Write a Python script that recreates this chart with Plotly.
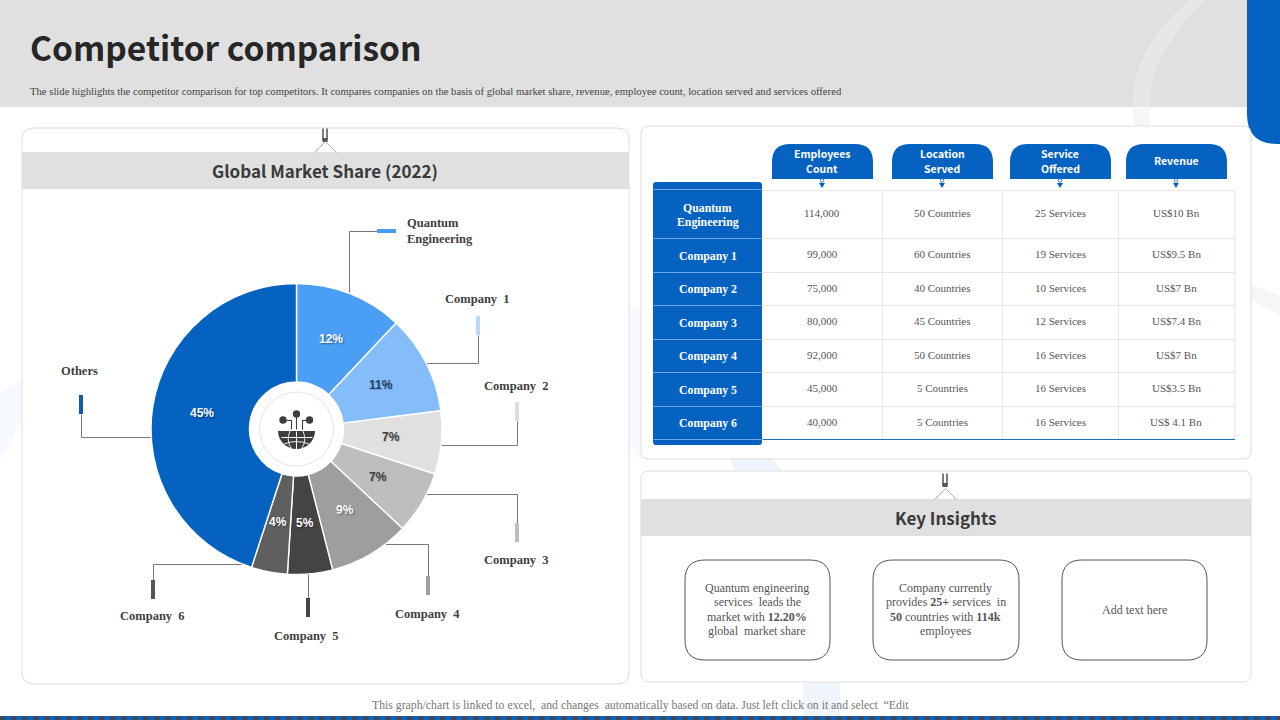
import math
import plotly.graph_objects as go

# ---------- data ----------
slice_labels = ["Quantum Engineering", "Company 1", "Company 2", "Company 3",
                "Company 4", "Company 5", "Company 6", "Others"]
slice_values = [12, 11, 7, 7, 9, 5, 4, 45]
slice_colors = ["#4A9FF5", "#85BDFA", "#E0E0E0", "#BDBFBD",
                "#9E9E9E", "#444444", "#5F5F5F", "#0562C1"]
slice_text_colors = ["#FFFFFF", "#1F3F66", "#404040", "#404040",
                     "#FFFFFF", "#FFFFFF", "#FFFFFF", "#FFFFFF"]

table_columns = [["Employees", "Count"], ["Location", "Served"], ["Service", "Offered"], ["Revenue"]]
table_rows = [["Quantum", "Engineering"], ["Company 1"], ["Company 2"], ["Company 3"],
              ["Company 4"], ["Company 5"], ["Company 6"]]
employees = ["114,000", "99,000", "75,000", "80,000", "92,000", "45,000", "40,000"]
locations = ["50 Countries", "60 Countries", "40 Countries", "45 Countries",
             "50 Countries", "5 Countries", "5 Countries"]
services = ["25 Services", "19 Services", "10 Services", "12 Services",
            "16 Services", "16 Services", "16 Services"]
revenue = ["US$10 Bn", "US$9.5 Bn", "US$7 Bn", "US$7.4 Bn", "US$7 Bn", "US$3.5 Bn", "US$ 4.1 Bn"]

title = "Competitor comparison"
subtitle = ("The slide highlights the competitor comparison for top competitors. It compares companies on "
            "the basis of global market share, revenue, employee count, location served and services offered")
footer = "This graph/chart is linked to excel,  and changes  automatically based on data. Just left click on it and select  \u201cEdit"
insights = [["Quantum engineering", "services  leads the", "market with <b>12.20%</b>", "global  market share"],
            ["Company currently", "provides <b>25+</b> services  in", "<b>50</b> countries with <b>114k</b>", "employees"],
            ["Add text here"]]

# ---------- page geometry ----------
W, H = 1280, 720
BLUE = "#0562C1"
BAND = "#E0E0E0"
SERIF = "Liberation Serif"
HEAD = "Noto Sans CJK SC"
PIE_CX, PIE_CY, PIE_R = 296.5, 429, 145.5
LABEL_R = 95.5


def fx(x): return x / W
def fy(y): return 1 - y / H


shapes, annotations = [], []


def path_of(cmds):
    s = []
    for c in cmds:
        s.append(c if isinstance(c, str) else f"{fx(c[0]):.5f},{fy(c[1]):.5f}")
    return " ".join(s)


def add_path(cmds, fill=None, line=None, lw=1, layer="above"):
    shapes.append(dict(type="path", xref="paper", yref="paper", path=path_of(cmds),
                       fillcolor=fill or "rgba(0,0,0,0)",
                       line=dict(color=line or "rgba(0,0,0,0)", width=lw if line else 0), layer=layer))


def rect(x0, y0, x1, y1, fill=None, line=None, lw=1, layer="below"):
    shapes.append(dict(type="rect", xref="paper", yref="paper", x0=fx(x0), x1=fx(x1), y0=fy(y1), y1=fy(y0),
                       fillcolor=fill or "rgba(0,0,0,0)",
                       line=dict(color=line or "rgba(0,0,0,0)", width=lw if line else 0), layer=layer))


def circle(cx, cy, r, fill=None, line=None, lw=1, layer="above"):
    shapes.append(dict(type="circle", xref="paper", yref="paper", x0=fx(cx - r), x1=fx(cx + r),
                       y0=fy(cy + r), y1=fy(cy - r),
                       fillcolor=fill or "rgba(0,0,0,0)",
                       line=dict(color=line or "rgba(0,0,0,0)", width=lw if line else 0), layer=layer))


def rrect(x0, y0, x1, y1, r, fill=None, line=None, lw=1, layer="below", corners="tl tr br bl"):
    c = corners.split()
    cmds = ["M", (x0 + (r if "tl" in c else 0), y0), "L", (x1 - (r if "tr" in c else 0), y0)]
    if "tr" in c: cmds += ["Q", (x1, y0), (x1, y0 + r)]
    cmds += ["L", (x1, y1 - (r if "br" in c else 0))]
    if "br" in c: cmds += ["Q", (x1, y1), (x1 - r, y1)]
    cmds += ["L", (x0 + (r if "bl" in c else 0), y1)]
    if "bl" in c: cmds += ["Q", (x0, y1), (x0, y1 - r)]
    cmds += ["L", (x0, y0 + (r if "tl" in c else 0))]
    if "tl" in c: cmds += ["Q", (x0, y0), (x0 + r, y0)]
    cmds += ["Z"]
    add_path(cmds, fill, line, lw, layer)


def polyline(pts, color="#777777", lw=1, layer="above"):
    cmds = ["M", (pts[0][0] + .5, pts[0][1] + .5)]
    for p in pts[1:]:
        cmds += ["L", (p[0] + .5, p[1] + .5)]
    add_path(cmds, None, color, lw, layer)


def text(x, y, s, size=12, color="#555555", family=SERIF, anchor="center", bold=False, shadow=None):
    font = dict(size=size, color=color, family=family)
    if shadow:
        font["shadow"] = shadow
    annotations.append(dict(x=fx(x), y=fy(y), xref="paper", yref="paper", text=f"<b>{s}</b>" if bold else s,
                            showarrow=False, xanchor=anchor, yanchor="middle",
                            font=font, borderpad=0, borderwidth=0))


def lines(x, cy, rows, step, **kw):
    y = cy - step * (len(rows) - 1) / 2
    for r in rows:
        text(x, y, r, **kw)
        y += step


# ---------- background watermark ----------
add_path(["M", (1133, 125), "Q", (1130, 50), (1190, 0), "L", (1206, 0), "Q", (1147, 55), (1150, 125), "Z"],
         fill="#F6F6F6", layer="below")
rect(0, 0, 1247, 107, fill=BAND)
add_path(["M", (1133, 107), "Q", (1130, 50), (1190, 0), "L", (1206, 0), "Q", (1147, 55), (1150, 107), "Z"],
         fill="#E7E7E7", layer="below")
add_path(["M", (1251, 284), "L", (1280, 296), "L", (1280, 316), "L", (1251, 300), "Z"], fill="#F6F6F6", layer="below")
add_path(["M", (0, 392), "L", (22, 380), "L", (22, 420), "L", (0, 460), "Z"], fill="#F6F9FD", layer="below")
add_path(["M", (629, 305), "L", (641, 310), "L", (641, 460), "L", (629, 440), "Z"], fill="#F6F9FD", layer="below")
add_path(["M", (730, 459), "L", (772, 459), "L", (783, 471), "L", (734, 471), "Z"], fill="#EEF4FB", layer="below")
rect(803, 683, 840, 716, fill="#F0F5FB")

# blue corner
rrect(1247, -2, 1282, 144, 30, fill=BLUE, corners="bl")

# bottom strip
rect(0, 716, W, H, fill="#0F62BE")
for i in range(0, W, 11):
    rect(i, 716, i + 5.5, H, fill="#3B4A5C")

# ---------- panels ----------
rrect(22, 128, 629, 684, 12, fill="#FFFFFF", line="#DDDDDD")
rrect(641, 126, 1251, 459, 8, fill="#FFFFFF", line="#DDDDDD")
rrect(641, 471, 1251, 682, 8, fill="#FFFFFF", line="#DDDDDD")
rect(22, 152, 629, 189, fill=BAND)
rect(641, 499, 1251, 536, fill=BAND)


def hook(x, top, bottom):
    polyline([(x - 2.5, top), (x - 2.5, top + 12)], color="#444444", lw=1.4, layer="below")
    polyline([(x + 1.5, top), (x + 1.5, top + 12)], color="#444444", lw=1.4, layer="below")
    rect(x - 2.5, top + 10, x + 2.5, top + 14, fill="#555555")
    polyline([(x - 11, bottom), (x, bottom - 11), (x + 11, bottom)], color="#999999", lw=0.8, layer="below")


hook(325, 128, 152)
hook(945, 473, 499)

# ---------- headings ----------
text(30, 47, title, size=33.5, color="#262626", family=HEAD, anchor="left", bold=True)
text(30, 91, subtitle, size=10.67, color="#444444", anchor="left")
text(325, 170.5, "Global Market Share (2022)", size=17, color="#3A3A3A", family=HEAD, bold=True)
text(945.5, 517, "Key Insights", size=17, color="#3A3A3A", family=HEAD, bold=True)
text(640, 705, footer, size=11.75, color="#777777")

# ---------- pie leaders ----------
leaders = [
    [(349, 292), (349, 231), (377, 231)],
    [(426, 363), (478, 363), (478, 335)],
    [(441, 445), (517, 445), (517, 421)],
    [(426, 494), (517, 494), (517, 523)],
    [(385, 544), (428, 544), (428, 576)],
    [(308, 573), (308, 598)],
    [(250, 564), (153, 564), (153, 580)],
    [(152, 437), (81, 437), (81, 414)],
]
markers = [(377, 229, 396, 233, "#4A9BEF"), (476, 316, 480, 335, "#BBD9F7"), (515, 402, 519, 421, "#DDDDDD"),
           (515, 523, 519, 542, "#BDBDBD"), (426, 576, 430, 595, "#9E9E9E"), (306, 598, 310, 617, "#444444"),
           (151, 580, 155, 599, "#555555"), (79, 395, 83, 414, "#0F5CAB")]
for pts in leaders:
    polyline(pts, layer="below")
for m in markers:
    rect(m[0], m[1], m[2], m[3], fill=m[4])

LBL = dict(size=12.5, color="#404040", bold=True)
text(407, 223, "Quantum", anchor="left", **LBL)
text(407, 239, "Engineering", anchor="left", **LBL)
label_pos = [(477, 299), (516.5, 386), (516.5, 560), (427.5, 614), (306.5, 636), (152.5, 616), (79.5, 371)]
for name, (x, y) in zip(slice_labels[1:], label_pos):
    text(x, y, name.replace(" ", "\u00a0\u00a0"), **LBL)

# percentage labels, placed from the slice values on the middle of each ring segment
total = sum(slice_values)
running = 0
for v, col in zip(slice_values, slice_text_colors):
    ang = 2 * math.pi * (running + v / 2) / total
    running += v
    sh = "1px 1px 2px rgba(0,0,0,0.45)" if col == "#FFFFFF" else "1px 1px 1px rgba(0,0,0,0.15)"
    text(PIE_CX + LABEL_R * math.sin(ang) - 0.5, PIE_CY - LABEL_R * math.cos(ang) - 1, f"{v}%",
         size=12, color=col, family="Liberation Sans", bold=True, shadow=sh)

# ---------- pie centre ----------
circle(PIE_CX, PIE_CY, 47, fill="#FFFFFF")
circle(PIE_CX, PIE_CY, 37, fill="#FFFFFF", line="#E8E4E0", lw=1)
ICON = "#3D3D3D"
add_path(["M", (278, 431), "L", (315, 431), "C", (315, 441), (306.7, 449), (296.5, 449),
          "C", (286.3, 449), (278, 441), (278, 431), "Z"], fill=ICON)
polyline([(281, 437), (312, 437)], color="#FFFFFF", lw=1)
polyline([(296, 431), (296, 449)], color="#FFFFFF", lw=1)
add_path(["M", (290, 431), "Q", (286, 440), (291, 448)], None, "#FFFFFF", 0.9)
add_path(["M", (303, 431), "Q", (307, 440), (302, 448)], None, "#FFFFFF", 0.9)
add_path(["M", (284, 444), "Q", (296.5, 439), (309, 444)], None, "#FFFFFF", 0.9)
circle(283, 420, 3.7, fill=ICON)
circle(296.5, 414, 3.7, fill=ICON)
circle(309.5, 420, 3.7, fill=ICON)
polyline([(283, 420), (291, 420), (291, 429)], color=ICON, lw=1.1)
polyline([(296, 414), (296, 429)], color=ICON, lw=1.1)
polyline([(309, 420), (302, 420), (302, 429)], color=ICON, lw=1.1)

# ---------- table ----------
col_edges = [762, 882, 1002, 1118, 1234.5]
row_edges = [190, 238, 272, 305, 339, 372, 406, 439]
rrect(653, 182, 762, 445, 3, fill=BLUE)
GRID = "#E6E6E6"
for y in row_edges[:-1]:
    polyline([(762, y), (1234.5, y)], color=GRID, lw=1.2)
for x in col_edges[1:]:
    polyline([(x, 190), (x, 439)], color=GRID, lw=1)
polyline([(762, 439), (1234.5, 439)], color="#1F6FB5", lw=1.2)
for y in [189] + row_edges[1:-1] + [439]:
    polyline([(653, y), (761, y)], color="#6FA8E6", lw=1)

tabs = [(772, 873), (892, 993), (1010, 1111), (1126, 1227)]
cell_x = [822, 942, 1060, 1176]
for (x0, x1), head, cx in zip(tabs, table_columns, cell_x):
    rrect(x0, 144, x1, 179, 18, fill=BLUE, corners="tl tr")
    lines((x0 + x1) / 2 - 0.5, 160.5, head, 15, size=10.5, color="#FFFFFF", family=HEAD, bold=True)
    circle(cx, 180.5, 1.8, fill="#FFFFFF", line=BLUE, lw=0.8)
    add_path(["M", (cx - 3, 183), "L", (cx + 3, 183), "L", (cx, 188), "Z"], fill=BLUE)

for i, row in enumerate(table_rows):
    cy = (row_edges[i] + row_edges[i + 1]) / 2
    lines(707.5, cy + 0.7, row, 14, size=11.8, color="#FFFFFF", bold=True)
    for cx, col in zip(cell_x, [employees, locations, services, revenue]):
        text(cx, cy - 0.6, col[i], size=11, color="#555555")

# ---------- insight boxes ----------
boxes = [(685, 830), (873, 1019), (1062, 1207)]
for (x0, x1), rows in zip(boxes, insights):
    rrect(x0, 560, x1, 660, 20, fill="#FFFFFF", line="#555555", lw=1, layer="above")
    lines((x0 + x1) / 2 - 0.5, 609.5, rows, 14.5, size=12, color="#555555")

# ---------- figure ----------
pie = go.Pie(labels=slice_labels, values=slice_values, sort=False, direction="clockwise", rotation=0,
             hole=47 / PIE_R, marker=dict(colors=slice_colors, line=dict(color="#FFFFFF", width=1.4)),
             textinfo="none", showlegend=False, hoverinfo="label+percent",
             domain=dict(x=[fx(PIE_CX - PIE_R), fx(PIE_CX + PIE_R)], y=[fy(PIE_CY + PIE_R), fy(PIE_CY - PIE_R)]))

fig = go.Figure(pie)
fig.update_layout(width=W, height=H, autosize=False, margin=dict(l=0, r=0, t=0, b=0),
                  paper_bgcolor="#FFFFFF", plot_bgcolor="#FFFFFF", shapes=shapes, annotations=annotations)
fig.write_html("out.html", config=dict(displayModeBar=False),
               post_script="document.body.style.margin='0';document.body.style.overflow='hidden';")
